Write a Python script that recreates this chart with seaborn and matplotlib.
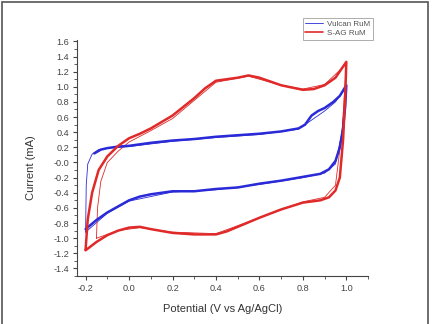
import numpy as np
import pandas as pd
import seaborn as sns
import matplotlib.pyplot as plt
from matplotlib.ticker import MultipleLocator
from matplotlib.patches import Rectangle
from matplotlib.lines import Line2D

# Vulcan RuM, main cycle (anodic then cathodic sweep)
vulcan_x = [-0.16, -0.13, -0.10, -0.05, 0.00, 0.10, 0.20, 0.30, 0.40, 0.50,
            0.60, 0.70, 0.78, 0.81, 0.84, 0.87, 0.90, 0.94, 0.97, 1.00,
            0.995, 0.985, 0.97, 0.95, 0.92, 0.88, 0.80, 0.70, 0.60, 0.50, 0.40, 0.30, 0.20, 0.10,
            0.05, 0.00, -0.05, -0.10, -0.15, -0.20]
vulcan_y = [0.12, 0.17, 0.19, 0.21, 0.22, 0.26, 0.29, 0.31, 0.34, 0.36,
            0.38, 0.41, 0.45, 0.50, 0.62, 0.68, 0.72, 0.80, 0.88, 1.02,
            0.75, 0.45, 0.20, 0.02, -0.09, -0.15, -0.19, -0.24, -0.28, -0.33, -0.35, -0.38, -0.38, -0.42,
            -0.45, -0.50, -0.58, -0.66, -0.76, -0.88]
# Vulcan RuM, second (thin) cycle
vulcan2_x = [-0.20, -0.197, -0.19, -0.17, -0.14, -0.10, 0.00, 0.20, 0.40, 0.60, 0.78, 0.82, 0.86,
             0.90, 0.95, 1.00, 0.98, 0.95, 0.90, 0.80, 0.60, 0.40, 0.20, 0.00, -0.10, -0.20]
vulcan2_y = [-0.92, -0.30, -0.02, 0.11, 0.17, 0.19, 0.21, 0.28, 0.33, 0.37, 0.44, 0.52, 0.60,
             0.68, 0.80, 1.00, 0.40, -0.02, -0.14, -0.20, -0.29, -0.36, -0.39, -0.51, -0.67, -0.92]

# S-AG RuM, main cycle
sag_x = [-0.20, -0.19, -0.17, -0.14, -0.10, -0.05, 0.00, 0.05, 0.10, 0.20, 0.30, 0.35, 0.40,
         0.50, 0.55, 0.60, 0.70, 0.80, 0.85, 0.90, 0.95, 1.00,
         0.995, 0.985, 0.97, 0.95, 0.92, 0.88, 0.80, 0.70, 0.60, 0.50, 0.45, 0.40, 0.30, 0.20,
         0.10, 0.05, 0.00, -0.05, -0.10, -0.15, -0.20]
sag_y = [-1.15, -0.75, -0.40, -0.10, 0.08, 0.22, 0.32, 0.38, 0.45, 0.62, 0.85, 0.98, 1.08,
         1.12, 1.15, 1.12, 1.02, 0.96, 0.97, 1.02, 1.12, 1.33,
         0.90, 0.30, -0.20, -0.37, -0.46, -0.50, -0.53, -0.62, -0.73, -0.85, -0.91, -0.95, -0.95, -0.93,
         -0.88, -0.85, -0.86, -0.90, -0.96, -1.05, -1.16]
# S-AG RuM, second (thin) cycle
sag2_x = [-0.15, -0.145, -0.13, -0.10, -0.05, 0.00, 0.10, 0.20, 0.30, 0.40, 0.55, 0.70, 0.80,
          0.90, 1.00, 0.98, 0.95, 0.90, 0.80, 0.60, 0.40, 0.20, 0.05, -0.05, -0.15]
sag2_y = [-1.00, -0.60, -0.25, 0.00, 0.15, 0.27, 0.42, 0.58, 0.82, 1.06, 1.14, 1.02, 0.97,
          1.03, 1.30, 0.40, -0.30, -0.46, -0.52, -0.73, -0.94, -0.92, -0.86, -0.90, -1.00]

sns.set_style("ticks")
plt.rcParams['font.family'] = ['Arial', 'Liberation Sans', 'DejaVu Sans']

fig = plt.figure(figsize=(4.32, 3.24), dpi=100)
fig.patches.append(Rectangle((0.004, -0.01), 0.986, 1.004, transform=fig.transFigure,
                             fill=False, edgecolor='#555555', linewidth=1.2))
ax = fig.add_axes([0.178, 0.148, 0.674, 0.729])

blue = '#2a2ad8'
red = '#e02a2a'
sns.lineplot(x=vulcan2_x, y=vulcan2_y, sort=False, estimator=None, color=blue, lw=0.6, ax=ax)
sns.lineplot(x=sag2_x, y=sag2_y, sort=False, estimator=None, color=red, lw=0.6, ax=ax)
sns.lineplot(x=vulcan_x, y=vulcan_y, sort=False, estimator=None, color=blue, lw=1.8, ax=ax)
sns.lineplot(x=sag_x, y=sag_y, sort=False, estimator=None, color=red, lw=1.8, ax=ax)

ax.set_xlim(-0.24, 1.1)
ax.set_ylim(-1.5, 1.62)
ax.xaxis.set_minor_locator(MultipleLocator(0.1))
ax.yaxis.set_minor_locator(MultipleLocator(0.1))
ax.set_xticks(np.arange(-0.2, 1.01, 0.2))
ax.set_yticks(np.arange(-1.4, 1.61, 0.2))
ax.set_xticklabels(['-0.2', '0.0', '0.2', '0.4', '0.6', '0.8', '1.0'])
ax.set_yticklabels(['%.1f' % v for v in np.arange(-1.4, 1.61, 0.2)])
ax.tick_params(which='major', length=3, width=0.8, labelsize=6.6, colors='#444444', pad=2.5)
ax.tick_params(which='minor', length=2, width=0.6, colors='#444444')
for s in ['top', 'right']:
    ax.spines[s].set_visible(False)
for s in ['left', 'bottom']:
    ax.spines[s].set_color('#444444')
    ax.spines[s].set_linewidth(0.8)

ax.set_xlabel('Potential (V vs Ag/AgCl)', fontsize=8, color='#333333')
ax.set_ylabel('Current (mA)', fontsize=8, color='#333333')
ax.xaxis.set_label_coords(0.5, -0.12)
ax.yaxis.set_label_coords(-0.14, 0.46)

handles = [Line2D([], [], color=blue, lw=0.6), Line2D([], [], color=red, lw=1.2)]
leg = ax.legend(handles, ['Vulcan RuM', 'S-AG RuM'], loc='upper right',
                bbox_to_anchor=(1.03, 1.11), fontsize=5.8, frameon=True, fancybox=False,
                handlelength=2.2, borderpad=0.3, labelspacing=0.2, handletextpad=0.5)
leg.get_frame().set_edgecolor('#888888')
leg.get_frame().set_linewidth(0.6)
for t in leg.get_texts():
    t.set_color('#555555')

fig.savefig('out.png', dpi=100)
